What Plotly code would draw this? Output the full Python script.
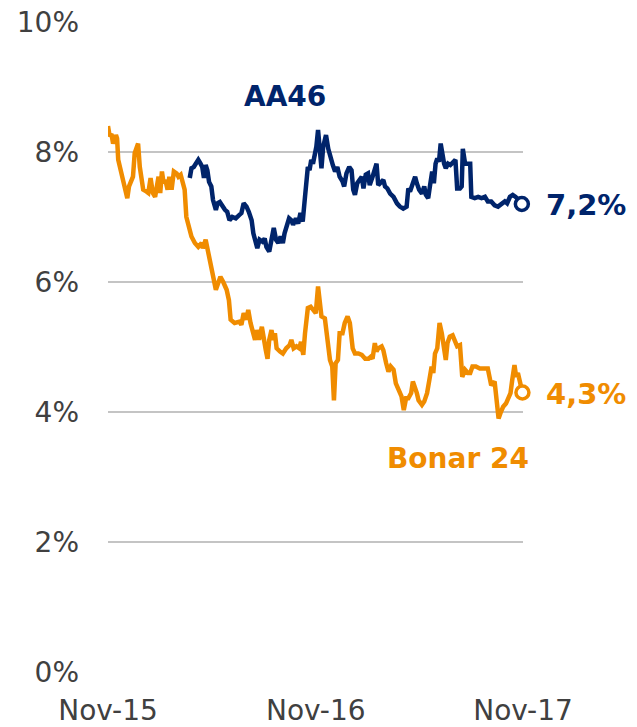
import plotly.graph_objects as go

# ---------------- data ----------------
bonar_dates = [
    "2015-11-01", "2015-11-04", "2015-11-07", "2015-11-10", "2015-11-15", "2015-11-17", "2015-11-19",
    "2015-11-22", "2015-11-25", "2015-11-28", "2015-12-03", "2015-12-05", "2015-12-08", "2015-12-12",
    "2015-12-15", "2015-12-18", "2015-12-21", "2015-12-24", "2015-12-27", "2015-12-30", "2016-01-02",
    "2016-01-08", "2016-01-11", "2016-01-15", "2016-01-19", "2016-01-23", "2016-01-26", "2016-01-29",
    "2016-02-01", "2016-02-04", "2016-02-07", "2016-02-10", "2016-02-14", "2016-02-17", "2016-02-21",
    "2016-02-25", "2016-03-01", "2016-03-04", "2016-03-08", "2016-03-11", "2016-03-15", "2016-03-18",
    "2016-03-21", "2016-03-24", "2016-03-27", "2016-04-02", "2016-04-08", "2016-04-14", "2016-04-16",
    "2016-04-21", "2016-04-25", "2016-04-28", "2016-05-01", "2016-05-04", "2016-05-09", "2016-05-13",
    "2016-05-17", "2016-05-22", "2016-05-28", "2016-06-01", "2016-06-04", "2016-06-11", "2016-06-20",
    "2016-06-23", "2016-06-27", "2016-07-02", "2016-07-05", "2016-07-09", "2016-07-14", "2016-07-17",
    "2016-07-20", "2016-07-24", "2016-07-29", "2016-08-01", "2016-08-05", "2016-08-08", "2016-08-11",
    "2016-08-15", "2016-08-18", "2016-08-21", "2016-08-24", "2016-08-30", "2016-09-04", "2016-09-10",
    "2016-09-16", "2016-09-19", "2016-09-23", "2016-09-28", "2016-10-03", "2016-10-06", "2016-10-10",
    "2016-10-13", "2016-10-16", "2016-10-18", "2016-10-23", "2016-10-27", "2016-11-01", "2016-11-05",
    "2016-11-08", "2016-11-11", "2016-11-17", "2016-11-21", "2016-11-26", "2016-11-30", "2016-12-03",
    "2016-12-06", "2016-12-10", "2016-12-13", "2016-12-18", "2016-12-22", "2016-12-27", "2016-12-31",
    "2017-01-05", "2017-01-09", "2017-01-15", "2017-01-21", "2017-01-27", "2017-02-02", "2017-02-06",
    "2017-02-09", "2017-02-13", "2017-02-16", "2017-02-19", "2017-02-25", "2017-02-28", "2017-03-05",
    "2017-03-09", "2017-03-13", "2017-03-18", "2017-03-22", "2017-03-26", "2017-04-01", "2017-04-05",
    "2017-04-09", "2017-04-13", "2017-04-18", "2017-04-21", "2017-04-25", "2017-04-28", "2017-05-01",
    "2017-05-07", "2017-05-11", "2017-05-16", "2017-05-20", "2017-05-24", "2017-05-27", "2017-05-30",
    "2017-06-03", "2017-06-07", "2017-06-11", "2017-06-15", "2017-06-18", "2017-06-21", "2017-06-25",
    "2017-06-30", "2017-07-04", "2017-07-08", "2017-07-13", "2017-07-17", "2017-07-22", "2017-07-27",
    "2017-07-31", "2017-08-04", "2017-08-10", "2017-08-17", "2017-08-26", "2017-08-31", "2017-09-03",
    "2017-09-06", "2017-09-12", "2017-09-15", "2017-09-19", "2017-09-23", "2017-09-27", "2017-10-02",
    "2017-10-06", "2017-10-10", "2017-10-13", "2017-10-17", "2017-10-20", "2017-10-23", "2017-10-26",
    "2017-10-31",
]
bonar_values = [
    8.40, 8.24, 8.28, 8.13, 8.26, 8.21, 7.88,
    7.77, 7.62, 7.52, 7.31, 7.29, 7.47, 7.57,
    7.62, 7.98, 8.08, 8.13, 7.77, 7.62, 7.42,
    7.39, 7.37, 7.60, 7.37, 7.31, 7.49, 7.62,
    7.37, 7.70, 7.52, 7.57, 7.42, 7.62, 7.42,
    7.70, 7.67, 7.62, 7.65, 7.57, 7.42, 7.00,
    6.90, 6.85, 6.70, 6.60, 6.54, 6.60, 6.52,
    6.65, 6.49, 6.39, 6.24, 6.08, 5.88, 5.98,
    6.08, 6.00, 5.88, 5.72, 5.42, 5.37, 5.39,
    5.34, 5.52, 5.42, 5.57, 5.37, 5.21, 5.11,
    5.26, 5.11, 5.31, 5.11, 4.95, 4.82, 5.11,
    5.26, 5.11, 5.21, 4.98, 4.93, 4.90, 4.98,
    5.03, 5.11, 4.98, 5.01, 4.98, 5.08, 4.88,
    5.21, 5.52, 5.60, 5.62, 5.57, 5.52, 5.93,
    5.72, 5.47, 5.44, 5.16, 4.80, 4.70, 4.18,
    4.75, 4.80, 5.21, 5.21, 5.37, 5.47, 5.37,
    4.98, 4.90, 4.90, 4.88, 4.82, 4.82, 4.85,
    4.82, 5.06, 4.93, 4.98, 5.01, 4.95, 4.75,
    4.62, 4.70, 4.65, 4.44, 4.34, 4.24, 4.03,
    4.21, 4.21, 4.29, 4.47, 4.39, 4.29, 4.18,
    4.11, 4.16, 4.29, 4.49, 4.70, 4.60, 4.90,
    4.98, 5.37, 5.21, 4.90, 4.80, 5.06, 5.16,
    5.18, 5.11, 5.01, 5.03, 4.54, 4.65, 4.60,
    4.60, 4.70, 4.70, 4.67, 4.67, 4.67, 4.54,
    4.41, 4.47, 4.18, 3.90, 4.00, 4.08, 4.13,
    4.21, 4.29, 4.49, 4.72, 4.54, 4.60, 4.49,
    4.30,
]

aa46_dates = [
    "2016-03-24", "2016-03-27", "2016-03-31", "2016-04-04", "2016-04-08", "2016-04-12", "2016-04-15",
    "2016-04-18", "2016-04-21", "2016-04-24", "2016-04-27", "2016-05-01", "2016-05-04", "2016-05-09",
    "2016-05-12", "2016-05-16", "2016-05-20", "2016-05-25", "2016-05-29", "2016-06-02", "2016-06-07",
    "2016-06-13", "2016-06-19", "2016-06-23", "2016-06-27", "2016-07-02", "2016-07-06", "2016-07-11",
    "2016-07-14", "2016-07-17", "2016-07-21", "2016-07-25", "2016-07-30", "2016-08-03", "2016-08-06",
    "2016-08-11", "2016-08-15", "2016-08-19", "2016-08-23", "2016-08-27", "2016-08-31", "2016-09-04",
    "2016-09-07", "2016-09-11", "2016-09-15", "2016-09-19", "2016-09-22", "2016-09-27", "2016-10-01",
    "2016-10-05", "2016-10-09", "2016-10-13", "2016-10-16", "2016-10-18", "2016-10-21", "2016-10-24",
    "2016-10-27", "2016-10-30", "2016-11-02", "2016-11-05", "2016-11-08", "2016-11-11", "2016-11-14",
    "2016-11-19", "2016-11-23", "2016-11-27", "2016-12-01", "2016-12-05", "2016-12-09", "2016-12-13",
    "2016-12-18", "2016-12-21", "2016-12-25", "2016-12-30", "2017-01-03", "2017-01-06", "2017-01-09",
    "2017-01-13", "2017-01-18", "2017-01-21", "2017-01-24", "2017-01-28", "2017-02-01", "2017-02-04",
    "2017-02-09", "2017-02-13", "2017-02-16", "2017-02-19", "2017-02-23", "2017-02-28", "2017-03-03",
    "2017-03-07", "2017-03-12", "2017-03-18", "2017-03-24", "2017-03-29", "2017-04-04", "2017-04-10",
    "2017-04-13", "2017-04-16", "2017-04-21", "2017-04-25", "2017-04-28", "2017-05-02", "2017-05-07",
    "2017-05-11", "2017-05-14", "2017-05-18", "2017-05-21", "2017-05-25", "2017-05-28", "2017-05-31",
    "2017-06-03", "2017-06-06", "2017-06-09", "2017-06-12", "2017-06-15", "2017-06-18", "2017-06-22",
    "2017-06-26", "2017-07-01", "2017-07-05", "2017-07-08", "2017-07-13", "2017-07-16", "2017-07-18",
    "2017-07-22", "2017-07-27", "2017-07-31", "2017-08-02", "2017-08-08", "2017-08-14", "2017-08-20",
    "2017-08-26", "2017-08-31", "2017-09-06", "2017-09-12", "2017-09-18", "2017-09-24", "2017-09-30",
    "2017-10-04", "2017-10-09", "2017-10-14", "2017-10-19", "2017-10-30",
]
aa46_values = [
    7.60, 7.75, 7.77, 7.82, 7.88, 7.82, 7.77,
    7.60, 7.80, 7.72, 7.54, 7.47, 7.26, 7.11,
    7.21, 7.23, 7.16, 7.11, 7.08, 6.95, 7.00,
    6.98, 7.03, 7.06, 7.21, 7.16, 7.08, 6.95,
    6.75, 6.65, 6.52, 6.65, 6.62, 6.67, 6.54,
    6.47, 6.70, 6.83, 6.65, 6.60, 6.70, 6.60,
    6.75, 6.90, 6.98, 6.95, 6.88, 6.98, 6.90,
    7.06, 6.93, 7.31, 7.67, 7.77, 7.72, 7.88,
    7.82, 7.92, 8.08, 8.34, 8.10, 7.75, 8.08,
    8.26, 8.05, 7.90, 7.80, 7.70, 7.77, 7.62,
    7.55, 7.47, 7.67, 7.77, 7.72, 7.42, 7.34,
    7.52, 7.57, 7.62, 7.44, 7.65, 7.67, 7.49,
    7.62, 7.75, 7.82, 7.49, 7.52, 7.57, 7.47,
    7.44, 7.36, 7.31, 7.21, 7.16, 7.13, 7.16,
    7.44, 7.39, 7.52, 7.62, 7.52, 7.42, 7.36,
    7.47, 7.34, 7.29, 7.47, 7.70, 7.52, 7.82,
    7.90, 7.85, 8.13, 7.95, 7.82, 7.75, 7.82,
    7.80, 7.85, 7.88, 7.44, 7.44, 7.47, 8.05,
    7.82, 7.82, 7.82, 7.31, 7.29, 7.31, 7.29,
    7.31, 7.24, 7.24, 7.18, 7.16, 7.21, 7.24,
    7.21, 7.31, 7.34, 7.31, 7.20,
]

series_names = ["AA46", "Bonar 24"]
end_labels = ["7,2%", "4,3%"]
y_tickvals = [0, 2, 4, 6, 8, 10]
y_ticktext = ["0%", "2%", "4%", "6%", "8%", "10%"]
x_tickvals = ["2015-11-01", "2016-11-01", "2017-11-01"]
x_ticktext = ["Nov-15", "Nov-16", "Nov-17"]
name_label_pos = {"AA46": ("2016-09-07", 8.85), "Bonar 24": ("2017-07-09", 3.29)}

# ---------------- style ----------------
NAVY = "#00246B"
ORANGE = "#F08C00"
TICK_FONT = dict(family="DejaVu Sans", size=28, color="#404040")

fig = go.Figure()

series = [
    ("AA46", aa46_dates, aa46_values, NAVY, end_labels[0]),
    ("Bonar 24", bonar_dates, bonar_values, ORANGE, end_labels[1]),
]

for name, xs, ys, color, lab in series:
    fig.add_trace(go.Scatter(
        x=xs, y=ys, mode="lines", name=name,
        line=dict(color=color, width=4.5), hoverinfo="skip",
    ))
    fig.add_trace(go.Scatter(
        x=[xs[-1]], y=[ys[-1]], mode="markers", name=name + " end",
        marker=dict(symbol="circle", size=13, color="white",
                    line=dict(color=color, width=3.5)),
        hoverinfo="skip", cliponaxis=False,
    ))
    fig.add_annotation(
        x=xs[-1], y=ys[-1], text=lab, showarrow=False,
        xanchor="left", yanchor="middle", xshift=22, yshift=-1,
        font=dict(family="DejaVu Sans", size=29, color=color, weight="bold"),
    )
    lx, ly = name_label_pos[name]
    fig.add_annotation(
        x=lx, y=ly, text=name, showarrow=False,
        xanchor="center", yanchor="middle",
        font=dict(family="DejaVu Sans", size=28, color=color, weight="bold"),
    )

fig.update_layout(
    width=637, height=727,
    margin=dict(l=108, r=114, t=22, b=55),
    paper_bgcolor="white", plot_bgcolor="white",
    showlegend=False, hovermode=False,
)
fig.update_xaxes(
    type="date", range=["2015-11-01", "2017-11-01"],
    tickmode="array", tickvals=x_tickvals, ticktext=x_ticktext,
    showgrid=False, zeroline=False, showline=False, automargin=False,
    tickfont=TICK_FONT, ticks="", ticklabelstandoff=19,
)
fig.update_yaxes(
    range=[0, 10], tickmode="array", tickvals=y_tickvals, ticktext=y_ticktext,
    showgrid=True, gridcolor="#C4C4C4", gridwidth=2,
    zeroline=False, showline=False, automargin=False,
    tickfont=TICK_FONT, ticks="", ticklabelstandoff=28,
)

fig.write_html(
    "out.html",
    config={"displayModeBar": False, "staticPlot": True},
    post_script="document.body.style.margin='0';document.body.style.overflow='hidden';",
)
